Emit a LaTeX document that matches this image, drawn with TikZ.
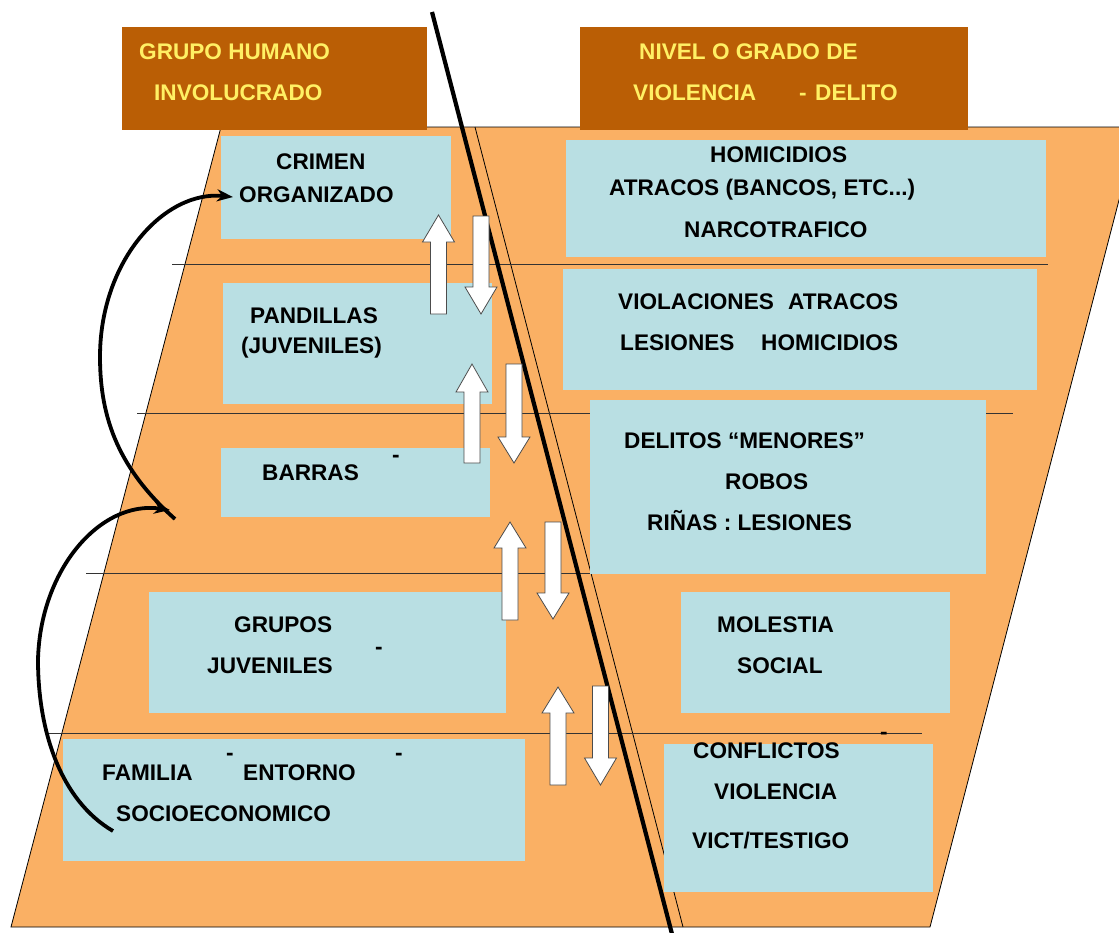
\documentclass[tikz,border=0pt]{standalone}
\usepackage{fontspec}
\setmainfont{Liberation Sans}
\usetikzlibrary{arrows.meta}
\definecolor{org}{RGB}{250,176,100}
\definecolor{lblue}{RGB}{185,223,227}
\definecolor{hdr}{RGB}{186,94,5}
\definecolor{ylw}{RGB}{255,240,100}
\newcommand\uparr[4]{\draw[barrow] (#1-8,#4) -- (#1-8,#3) -- (#1-16,#3) -- (#1,#2) -- (#1+16,#3) -- (#1+8,#3) -- (#1+8,#4) -- cycle;}
\newcommand\dnarr[4]{\draw[barrow] (#1-8,#2) -- (#1-8,#3) -- (#1-16,#3) -- (#1,#4) -- (#1+16,#3) -- (#1+8,#3) -- (#1+8,#2) -- cycle;}
\begin{document}
\begin{tikzpicture}[x=1pt,y=-1pt,
  lbl/.style={anchor=base west, inner sep=0pt, font=\fontsize{22.6}{26}\selectfont\bfseries, text=black},
  hlbl/.style={lbl, text=ylw},
  dsh/.style={anchor=base west, inner sep=0pt, font=\fontsize{22.6}{26}\selectfont\bfseries, text=black},
  box/.style={fill=lblue, draw=none, anchor=north west, inner sep=0pt, outer sep=0pt},
  hbox/.style={fill=hdr, draw=none, anchor=north west, inner sep=0pt, outer sep=0pt},
  sep/.style={draw=black!80, line width=0.8pt},
  barrow/.style={fill=white, draw=black!70, line width=0.8pt, line join=miter},
  curv/.style={line width=3.8pt, -{Stealth[length=16pt,width=12pt,inset=5pt]}}
]
\useasboundingbox (0,0) rectangle (1119,932);
\clip (0,0) rectangle (1119,932);
% orange field
\draw[fill=org, draw=black, line width=0.8pt] (221,127) -- (1138,127) -- (930,927) -- (11,927) -- cycle;
\draw[black, line width=0.8pt] (475,127) -- (683,927);
% separators
\draw[sep] (172,264) -- (1048,264);
\draw[sep] (137,413) -- (1013,413);
\draw[sep] (86,573) -- (980,573);
\draw[sep] (47,733) -- (922,733);
% headers
\node[hbox, minimum width=305pt, minimum height=103pt] (h1) at (122,27) {};
\node[hbox, minimum width=388pt, minimum height=103pt] (h2) at (580,27) {};
% left boxes
\node[box, minimum width=230pt, minimum height=103pt] (lb1) at (221,136) {};
\node[box, minimum width=269pt, minimum height=121pt] (lb2) at (223,283) {};
\node[box, minimum width=269pt, minimum height=69pt] (lb3) at (221,448) {};
\node[box, minimum width=357pt, minimum height=121pt] (lb4) at (149,592) {};
\node[box, minimum width=462pt, minimum height=122pt] (lb5) at (63,739) {};
% right boxes
\node[box, minimum width=480pt, minimum height=117pt] (rb1) at (566,140) {};
\node[box, minimum width=474pt, minimum height=121pt] (rb2) at (563,269) {};
\node[box, minimum width=396pt, minimum height=174pt] (rb3) at (590,400) {};
\node[box, minimum width=269pt, minimum height=121pt] (rb4) at (681,592) {};
\node[box, minimum width=269pt, minimum height=148pt] (rb5) at (664,744) {};
% thick divider
\coordinate (dtop) at (432,12);
\coordinate (dbot) at (672,934);
\draw[black, line width=4.2pt] (dtop) -- (dbot);
% block arrows
\uparr{438.5}{215}{242}{314}
\dnarr{481}{216}{287}{314}
\uparr{472}{364}{392}{463}
\dnarr{514}{364}{437}{463}
\uparr{510}{522}{548}{620}
\dnarr{553}{522}{593}{619}
\uparr{558}{687}{713}{785}
\dnarr{600.5}{686}{758}{785}
% header texts
\node[hlbl] (t1) at (139,59) {GRUPO HUMANO};
\node[hlbl] (t2) at (154,100) {INVOLUCRADO};
\node[hlbl] (t3) at (639,59) {NIVEL O GRADO DE};
\node[hlbl] (t4) at (633,100) {VIOLENCIA};
\node[hlbl] (t4b) at (799,100) {-};
\node[hlbl] (t4c) at (815,100) {DELITO};
% left texts
\node[lbl] (t5) at (276,169) {CRIMEN};
\node[lbl] (t6) at (239,202) {ORGANIZADO};
\node[lbl] (t7) at (250,323) {PANDILLAS};
\node[lbl] (t8) at (241,353) {(JUVENILES)};
\node[lbl] (t9) at (262,480) {BARRAS};
\node[dsh] (d1) at (392,462) {-};
\node[lbl] (t10) at (234,632) {GRUPOS};
\node[lbl] (t11) at (207,673) {JUVENILES};
\node[dsh] (d2) at (375,654) {-};
\node[lbl] (t12) at (102,780) {FAMILIA};
\node[lbl] (t13) at (243,780) {ENTORNO};
\node[dsh] (d3) at (226,760) {-};
\node[dsh] (d4) at (395,760) {-};
\node[lbl] (t14) at (116,821) {SOCIOECONOMICO};
% right texts
\node[lbl] (r1) at (710,162) {HOMICIDIOS};
\node[lbl] (r2) at (609,195) {ATRACOS (BANCOS, ETC...)};
\node[lbl] (r3) at (684,237) {NARCOTRAFICO};
\node[lbl] (r4) at (618,309) {VIOLACIONES};
\node[lbl] (r4b) at (788,309) {ATRACOS};
\node[lbl] (r5) at (620,350) {LESIONES};
\node[lbl] (r5b) at (761,350) {HOMICIDIOS};
\node[lbl] (r6) at (624,448) {DELITOS “MENORES”};
\node[lbl] (r7) at (725,489) {ROBOS};
\node[lbl] (r8) at (647,530) {RIÑAS : LESIONES};
\node[lbl] (r9) at (717,632) {MOLESTIA};
\node[lbl] (r10) at (737,673) {SOCIAL};
\node[dsh] (d5) at (880,739) {-};
\node[lbl] (r11) at (693,758) {CONFLICTOS};
\node[lbl] (r12) at (714,799) {VIOLENCIA};
\node[lbl] (r13) at (692,848) {VICT/TESTIGO};
% curved arrows
\coordinate (ca0) at (175,519);
\coordinate (ca1) at (100,357);
\coordinate (ca2) at (233,197);
\draw[curv] (ca0) .. controls (120,470) and (100,420) .. (ca1) .. controls (100,260) and (165,190) .. (ca2);
\coordinate (cb0) at (113,831);
\coordinate (cb1) at (38,660);
\coordinate (cb2) at (170,510);
\draw[curv] (cb0) .. controls (60,800) and (38,730) .. (cb1) .. controls (40,570) and (100,500) .. (cb2);
\end{tikzpicture}
\end{document}
